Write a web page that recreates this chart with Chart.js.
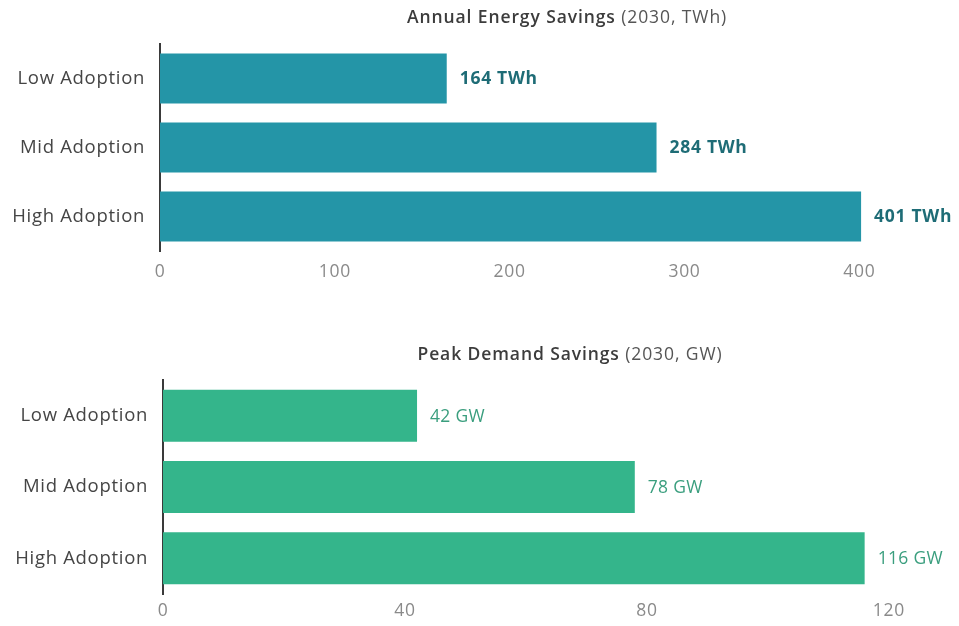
<!DOCTYPE html>
<html>
<head>
<meta charset="utf-8">
<script src="https://cdn.jsdelivr.net/npm/chart.js@4/dist/chart.umd.min.js"></script>
<style>
  html, body { margin: 0; padding: 0; background: #ffffff; }
  body { width: 959px; height: 626px; position: relative; overflow: hidden; }
  .box { position: absolute; left: 0; width: 959px; }
  #b1 { top: 0; height: 300px; }
  #b2 { top: 330px; height: 296px; }
</style>
</head>
<body>
<div class="box" id="b1"><canvas id="c1"></canvas></div>
<div class="box" id="b2"><canvas id="c2"></canvas></div>
<script>
// ---- data ----
const categories = ['Low Adoption', 'Mid Adoption', 'High Adoption'];
const energyTWh = [164, 284, 401];
const peakGW = [42, 78, 116];
const energyTicks = [0, 100, 200, 300, 400];
const peakTicks = [0, 40, 80, 120];
const energyTitle = ['Annual Energy Savings', ' (2030, TWh)'];
const peakTitle = ['Peak Demand Savings', ' (2030, GW)'];
const energyUnit = 'TWh';
const peakUnit = 'GW';

const FONT = '"Open Sans", Lato, sans-serif';

function makeChart(id, values, ticks, maxVal, title, unit, cfg) {
  const spacingPlugin = {
    id: 'spacing',
    beforeDraw(chart) { chart.ctx.letterSpacing = '0.7px'; }
  };
  const titlePlugin = {
    id: 'mixedTitle',
    afterDraw(chart) {
      const ctx = chart.ctx;
      ctx.save();
      ctx.letterSpacing = '0.9px';
      ctx.textBaseline = 'middle';
      ctx.font = '600 17.5px ' + FONT;
      const w1 = ctx.measureText(title[0]).width;
      ctx.font = '17.5px ' + FONT;
      const w2 = ctx.measureText(title[1]).width;
      const x0 = cfg.titleCenter - (w1 + w2) / 2;
      ctx.textAlign = 'left';
      ctx.font = '600 17.5px ' + FONT;
      ctx.fillStyle = '#3c3c3c';
      ctx.fillText(title[0], x0, cfg.titleY);
      ctx.font = '17.5px ' + FONT;
      ctx.fillStyle = '#555555';
      ctx.fillText(title[1], x0 + w1, cfg.titleY);
      ctx.restore();
    }
  };
  const valuePlugin = {
    id: 'valueLabels',
    afterDatasetsDraw(chart) {
      const ctx = chart.ctx;
      const meta = chart.getDatasetMeta(0);
      ctx.save();
      ctx.letterSpacing = cfg.labelSpacing;
      ctx.font = cfg.labelFont;
      ctx.fillStyle = cfg.labelColor;
      ctx.textAlign = 'left';
      ctx.textBaseline = 'middle';
      meta.data.forEach((bar, i) => {
        ctx.fillText(values[i] + ' ' + unit, bar.x + 13, bar.y + 1);
      });
      ctx.restore();
    }
  };
  return new Chart(document.getElementById(id), {
    type: 'bar',
    data: {
      labels: categories,
      datasets: [{
        data: values,
        backgroundColor: cfg.barColor,
        borderWidth: 0,
        categoryPercentage: 1,
        barPercentage: cfg.barPct
      }]
    },
    options: {
      indexAxis: 'y',
      responsive: true,
      maintainAspectRatio: false,
      animation: false,
      layout: { padding: { top: cfg.padTop, left: 0, right: 0, bottom: 0 } },
      plugins: { legend: { display: false }, tooltip: { enabled: false }, title: { display: false } },
      scales: {
        x: {
          min: 0,
          max: maxVal,
          grid: { display: false, drawTicks: false },
          border: { display: false },
          afterBuildTicks(scale) { scale.ticks = ticks.map(v => ({ value: v })); },
          afterFit(scale) { scale.height = cfg.xHeight; },
          ticks: {
            color: '#8a8a8a',
            font: { family: FONT, size: 17.5 },
            padding: cfg.xPad,
            maxRotation: 0,
            autoSkip: false
          }
        },
        y: {
          grid: { display: false, drawTicks: false },
          border: { display: true, color: '#3a3a3a', width: 2 },
          afterFit(scale) { scale.width = cfg.yWidth; },
          ticks: {
            color: '#454545',
            font: { family: FONT, size: 18.5 },
            padding: 15
          }
        }
      }
    },
    plugins: [spacingPlugin, titlePlugin, valuePlugin]
  });
}

makeChart('c1', energyTWh, energyTicks, 457, energyTitle, energyUnit, {
  titleCenter: 567, titleY: 18, padTop: 44, xHeight: 49, xPad: 11, yWidth: 160,
  barColor: '#2495a7', barPct: 0.725,
  labelFont: 'bold 17.5px ' + FONT, labelColor: '#1e6c76', labelSpacing: '0.7px'
});
makeChart('c2', peakGW, peakTicks, 131.6, peakTitle, peakUnit, {
  titleCenter: 570, titleY: 25, padTop: 50, xHeight: 32, xPad: 7, yWidth: 163,
  barColor: '#34b58b', barPct: 0.73,
  labelFont: '17.5px ' + FONT, labelColor: '#3a9e7e', labelSpacing: '0.3px'
});
</script>
</body>
</html>
